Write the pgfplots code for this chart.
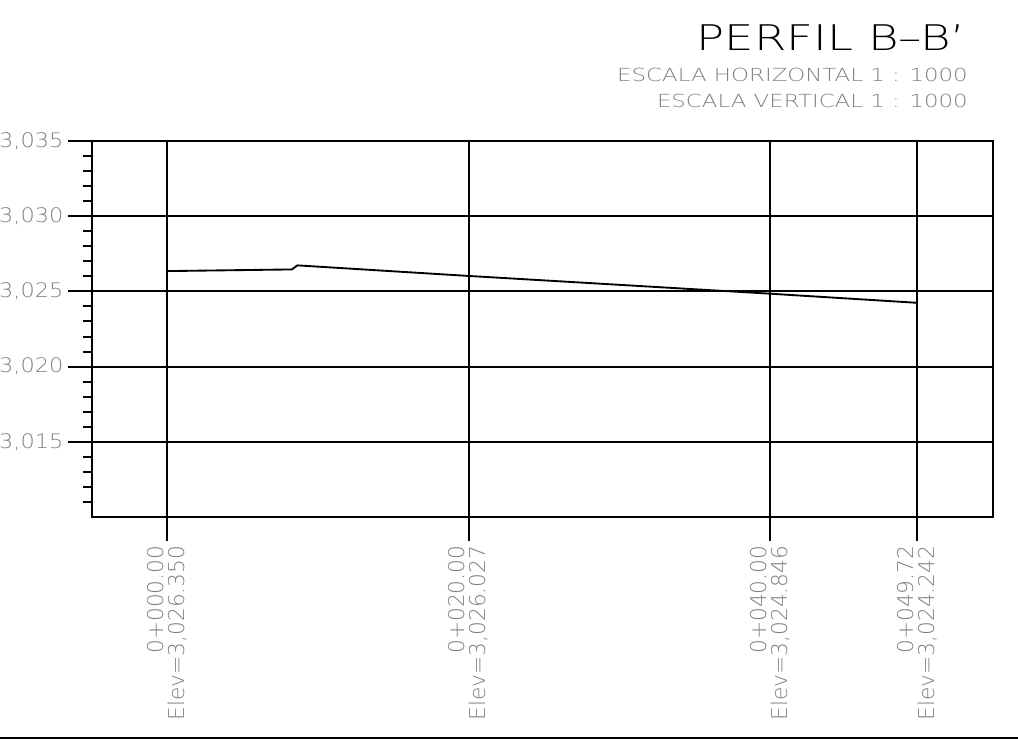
\documentclass[border=0pt]{standalone}
\usepackage{fontspec}
\setmainfont{DejaVu Sans}
\newfontfamily\cad{DejaVu Sans ExtraLight}
\newfontfamily\cadw[FakeStretch=1.12]{DejaVu Sans ExtraLight}
\usepackage{graphicx}
\usepackage{pgfplots}
\pgfplotsset{compat=1.18}
\definecolor{txtgray}{gray}{0.5}
\begin{document}
\begin{tikzpicture}[x=0.75pt,y=0.75pt]
\useasboundingbox (0,0) rectangle (1018,741);
\begin{axis}[
  at={(69pt,168pt)}, anchor=south west,
  scale only axis, width=675.75pt, height=282pt,
  xmin=-4.97, xmax=54.77, ymin=3010, ymax=3035,
  axis line style={line width=1.5pt},
  tick pos=left,
  tick align=outside,
  major tick length=18pt,
  minor tick length=7pt,
  tick style={black, line width=1.5pt},
  xtick={0,20,40,49.72},
  xticklabels={{0+000.00\\Elev=3,026.350},{0+020.00\\Elev=3,026.027},{0+040.00\\Elev=3,024.846},{0+049.72\\Elev=3,024.242}},
  ytick={3015,3020,3025,3030,3035},
  yticklabels={{3,015},{3,020},{3,025},{3,030},{3,035}},
  minor ytick={3011,...,3034},
  grid=major,
  major grid style={black, line width=1.5pt},
  xticklabel style={rotate=90, anchor=east, align=right, text=txtgray,
    font=\cad\fontsize{16.3}{15.8}\selectfont},
  yticklabel style={text=txtgray, font=\cadw\fontsize{15}{15}\selectfont},
  clip=false,
]
\addplot[black, line width=1.4pt] coordinates {
  (0, 3026.35) (8.28, 3026.46) (8.65, 3026.73)
  (20, 3026.027) (40, 3024.846) (49.72, 3024.242)
};
\end{axis}
\node[anchor=base east, inner sep=0] at (966,690)
  {\scalebox{1.32}[1]{\cad\fontsize{26.5}{28}\selectfont PERFIL B–B’}};
\node[anchor=base east, inner sep=0, text=txtgray] at (968,659)
  {\scalebox{1.27}[1]{\cad\fontsize{13.5}{14}\selectfont ESCALA HORIZONTAL 1 : 1000}};
\node[anchor=base east, inner sep=0, text=txtgray] at (968,633)
  {\scalebox{1.27}[1]{\cad\fontsize{13.5}{14}\selectfont ESCALA VERTICAL 1 : 1000}};
\draw[line width=2pt] (0,3) -- (1018,3);
\end{tikzpicture}
\end{document}
